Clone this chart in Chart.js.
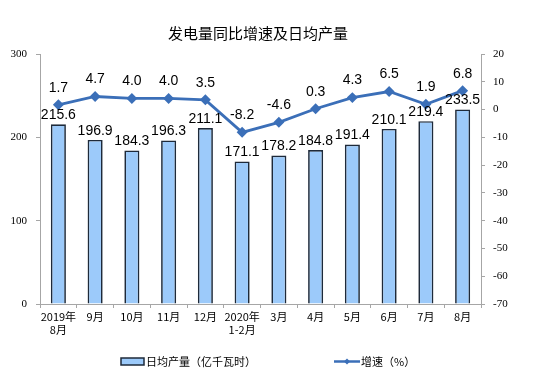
<!DOCTYPE html>
<html>
<head>
<meta charset="utf-8">
<script src="https://cdn.jsdelivr.net/npm/chart.js@4.4.1/dist/chart.umd.min.js"></script>
<style>
  html, body { margin: 0; padding: 0; background: #fff; }
  #wrap { width: 551px; height: 386px; }
</style>
</head>
<body>
<div id="wrap"><canvas id="c" width="551" height="386"></canvas></div>
<script>
// 数据
const months = [['2019年', '8月'], '9月', '10月', '11月', '12月', ['2020年', '1-2月'], '3月', '4月', '5月', '6月', '7月', '8月'];
const dailyOutput = [215.6, 196.9, 184.3, 196.3, 211.1, 171.1, 178.2, 184.8, 191.4, 210.1, 219.4, 233.5];
const growth = [1.7, 4.7, 4.0, 4.0, 3.5, -8.2, -4.6, 0.3, 4.3, 6.5, 1.9, 6.8];
const leftTicks = [0, 100, 200, 300];
const rightTicks = [-70, -60, -50, -40, -30, -20, -10, 0, 10, 20];

const cjk = '"Noto Sans CJK SC", sans-serif';
const lineColor = '#3b6fb8';
const barFill = '#9ccafa';
const barEdge = '#1e2a3a';

// 标题、图例、数值标签
const decorPlugin = {
    id: 'decor',
    afterDatasetsDraw(chart) {
        const ctx = chart.ctx;
        ctx.save();
        ctx.fillStyle = '#000';
        ctx.font = '14px "Liberation Sans", Arial, sans-serif';
        ctx.textAlign = 'center';
        ctx.textBaseline = 'bottom';
        chart.getDatasetMeta(0).data.forEach((bar, i) => {
            ctx.fillText(dailyOutput[i].toFixed(1), bar.x, bar.y - 2);
        });
        chart.getDatasetMeta(1).data.forEach((pt, i) => {
            ctx.fillText(growth[i].toFixed(1), pt.x, pt.y - 10);
        });
        ctx.restore();
    },
    afterDraw(chart) {
        const ctx = chart.ctx;
        ctx.save();
        ctx.fillStyle = '#000';
        ctx.font = '15px ' + cjk;
        ctx.textAlign = 'center';
        ctx.textBaseline = 'middle';
        ctx.fillText('发电量同比增速及日均产量', 258, 33);

        // 图例
        const ly = 361.5;
        ctx.fillStyle = barFill;
        ctx.strokeStyle = barEdge;
        ctx.lineWidth = 1.5;
        ctx.fillRect(121, ly - 3.5, 23, 7);
        ctx.strokeRect(121, ly - 3.5, 23, 7);

        ctx.strokeStyle = lineColor;
        ctx.lineWidth = 2.5;
        ctx.beginPath();
        ctx.moveTo(334, ly);
        ctx.lineTo(360, ly);
        ctx.stroke();
        ctx.fillStyle = lineColor;
        ctx.beginPath();
        ctx.moveTo(347, ly - 3);
        ctx.lineTo(350, ly);
        ctx.lineTo(347, ly + 3);
        ctx.lineTo(344, ly);
        ctx.closePath();
        ctx.fill();

        ctx.fillStyle = '#000';
        ctx.font = '11px ' + cjk;
        ctx.textAlign = 'left';
        ctx.fillText('日均产量（亿千瓦时）', 146, ly);
        ctx.fillText('增速（%）', 361, ly);
        ctx.restore();
    }
};

new Chart(document.getElementById('c'), {
    data: {
        labels: months,
        datasets: [{
            type: 'bar',
            label: '日均产量（亿千瓦时）',
            data: dailyOutput,
            backgroundColor: barFill,
            borderColor: barEdge,
            borderWidth: 1.7,
            barPercentage: 0.41,
            categoryPercentage: 1,
            yAxisID: 'y',
            order: 1
        }, {
            type: 'line',
            label: '增速（%）',
            data: growth,
            borderColor: lineColor,
            backgroundColor: lineColor,
            borderWidth: 2.8,
            pointStyle: 'rectRot',
            pointRadius: 3.5,
            tension: 0,
            yAxisID: 'y1',
            order: 0
        }]
    },
    options: {
        responsive: false,
        animation: false,
        layout: { padding: { top: 54, left: 0, right: 0, bottom: 0 } },
        plugins: {
            legend: { display: false },
            title: { display: false },
            tooltip: { enabled: false }
        },
        scales: {
            x: {
                offset: true,
                grid: { offset: true, drawOnChartArea: false, color: '#a6a6a6', tickLength: 4 },
                border: { color: '#a6a6a6' },
                ticks: { color: '#000', font: { family: cjk, size: 11 }, padding: 2, maxRotation: 0, autoSkip: false },
                afterFit(scale) { scale.height = 82; }
            },
            y: {
                position: 'left',
                min: 0, max: 300,
                afterBuildTicks(scale) { scale.ticks = leftTicks.map(v => ({ value: v })); },
                grid: { drawOnChartArea: false, color: '#a6a6a6', tickLength: 4 },
                border: { color: '#a6a6a6' },
                ticks: { color: '#000', font: { family: '"Liberation Serif", serif', size: 11 }, padding: 9 },
                afterFit(scale) { scale.width = 40; }
            },
            y1: {
                position: 'right',
                min: -70, max: 20,
                afterBuildTicks(scale) { scale.ticks = rightTicks.map(v => ({ value: v })); },
                grid: { drawOnChartArea: false, color: '#a6a6a6', tickLength: 4 },
                border: { color: '#a6a6a6' },
                ticks: { color: '#000', font: { family: '"Liberation Serif", serif', size: 11 }, padding: 8 },
                afterFit(scale) { scale.width = 70; }
            }
        }
    },
    plugins: [decorPlugin]
});
</script>
</body>
</html>
